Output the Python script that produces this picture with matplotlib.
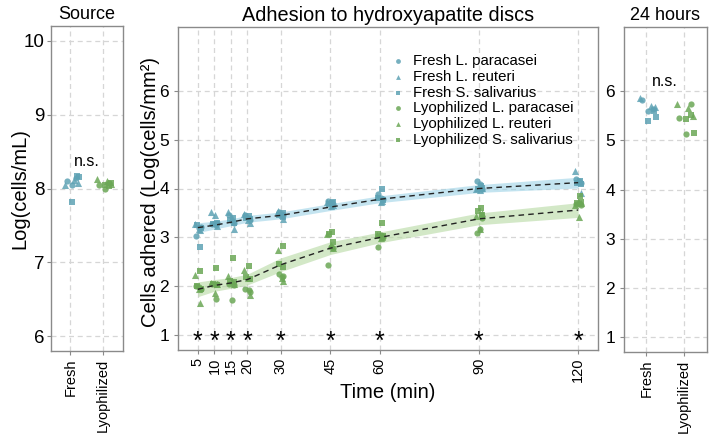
import matplotlib
matplotlib.use("Agg")
import matplotlib.pyplot as plt
import numpy as np

plt.rcParams['font.family'] = ['Liberation Sans', 'DejaVu Sans']

# ---------------- data ----------------
groups = ["Fresh", "Lyophilized"]
strains = ["L. paracasei", "L. reuteri", "S. salivarius"]

# Source panel (Log cells/mL), 3 replicates per strain
source_fresh = {"L. paracasei": [8.10, 8.05, 8.14],
                "L. reuteri": [8.05, 8.12, 8.08],
                "S. salivarius": [8.17, 8.15, 7.82]}
source_lyo = {"L. paracasei": [8.05, 8.00, 8.08],
              "L. reuteri": [8.13, 8.10, 8.06],
              "S. salivarius": [8.03, 8.07, 8.05]}

# 24 hours panel (Log cells/mm2)
h24_fresh = {"L. paracasei": [5.81, 5.60, 5.63],
             "L. reuteri": [5.85, 5.70, 5.68],
             "S. salivarius": [5.59, 5.48, 5.39]}
h24_lyo = {"L. paracasei": [5.45, 5.12, 5.73],
           "L. reuteri": [5.73, 5.66, 5.50],
           "S. salivarius": [5.52, 5.14, 5.44]}

# Adhesion time course
times = [5, 10, 15, 20, 30, 45, 60, 90, 120]
fresh_paracasei = [[3.03, 3.20, 3.22], [3.27, 3.25, 3.30], [3.45, 3.34, 3.30],
                   [3.45, 3.40, 3.35], [3.52, 3.48, 3.45], [3.75, 3.70, 3.68],
                   [3.89, 3.80, 3.78], [4.15, 4.09, 4.00], [4.19, 4.15, 4.12]]
fresh_reuteri = [[3.27, 3.18, 3.15], [3.52, 3.45, 3.23], [3.52, 3.39, 3.18],
                 [3.48, 3.36, 3.29], [3.55, 3.45, 3.37], [3.72, 3.65, 3.66],
                 [3.82, 3.72, 3.75], [4.00, 3.97, 4.02], [4.35, 4.15, 3.90]]
fresh_salivarius = [[2.81, 3.25, 3.20], [3.27, 3.28, 3.30], [3.40, 3.35, 3.30],
                    [3.44, 3.40, 3.38], [3.50, 3.45, 3.42], [3.70, 3.68, 3.72],
                    [3.99, 3.80, 3.76], [4.05, 4.00, 4.02], [4.15, 4.12, 4.10]]
lyo_paracasei = [[2.01, 1.98, 1.95], [2.04, 1.74, 2.05], [2.04, 1.72, 2.02],
                 [1.95, 1.93, 1.88], [2.25, 2.20, 2.22], [2.44, 2.80, 2.78],
                 [2.80, 3.05, 3.00], [3.09, 3.18, 3.40], [3.68, 3.70, 3.67]]
lyo_reuteri = [[2.24, 1.95, 1.66], [2.07, 1.86, 2.05], [2.21, 2.10, 2.05],
               [2.33, 2.17, 1.83], [2.75, 2.17, 2.10], [3.08, 2.85, 2.78],
               [3.05, 2.98, 3.00], [3.43, 3.18, 3.50], [3.67, 3.41, 3.70]]
lyo_salivarius = [[2.31, 2.00, 1.95], [2.38, 2.05, 2.02], [2.59, 2.10, 2.08],
                  [2.42, 2.20, 2.15], [2.83, 2.45, 2.40], [3.11, 3.08, 2.90],
                  [3.29, 3.07, 3.02], [3.60, 3.55, 3.45], [3.85, 3.70, 3.72]]

fresh_fit = [3.20, 3.25, 3.31, 3.38, 3.45, 3.62, 3.78, 4.00, 4.12]
fresh_se = [0.10, 0.08, 0.07, 0.07, 0.07, 0.07, 0.07, 0.08, 0.11]
lyo_fit = [1.94, 2.02, 2.07, 2.14, 2.44, 2.78, 3.00, 3.38, 3.56]
lyo_se = [0.15, 0.12, 0.11, 0.11, 0.14, 0.13, 0.11, 0.12, 0.15]

signif_times = [5, 10, 15, 20, 30, 45, 60, 90, 120]

# ---------------- style ----------------
C_FRESH = '#5ea2b4'
C_LYO = '#6ba756'
RIB_FRESH = '#9dd3e7'
RIB_LYO = '#b6d9a2'
MARK = {"L. paracasei": 'o', "L. reuteri": '^', "S. salivarius": 's'}
MSIZE = {"L. paracasei": 20, "L. reuteri": 26, "S. salivarius": 20}
GRID = dict(color='#d6d6d6', linestyle=(0, (4, 3)), linewidth=0.9)
SPINE = '#8a8a8a'

W, H = 709, 441
fig = plt.figure(figsize=(W / 100, H / 100), dpi=100)

def px_axes(x0, y0, x1, y1):
    return fig.add_axes([x0 / W, 1 - y1 / H, (x1 - x0) / W, (y1 - y0) / H])

def style(ax):
    for s in ax.spines.values():
        s.set_color(SPINE)
        s.set_linewidth(1.0)
    ax.tick_params(color=SPINE, length=3, width=0.8)
    ax.tick_params(axis='x', pad=2.5)
    ax.grid(True, **GRID)
    ax.set_axisbelow(True)

ax1 = px_axes(51, 26, 123, 351)
ax2 = px_axes(178, 27, 598, 350)
ax3 = px_axes(624, 27, 707, 352)

jit_cat = {"L. paracasei": [-0.12, 0.05, 0.18],
           "L. reuteri": [-0.18, 0.12, 0.24],
           "S. salivarius": [0.20, 0.26, 0.05]}

def side_panel(ax, fresh, lyo):
    for gi, (g, d, c) in enumerate([("Fresh", fresh, C_FRESH), ("Lyophilized", lyo, C_LYO)]):
        for s in strains:
            vals = d[s]
            xs = [gi + 1 + j for j in jit_cat[s][:len(vals)]]
            ax.scatter(xs, vals, marker=MARK[s], s=MSIZE[s], color=c,
                       alpha=0.85, linewidths=0, zorder=3)
    ax.set_xticks([1, 2])
    ax.set_xticklabels(groups, rotation=90, fontsize=10.5)
    ax.set_xlim(0.4, 2.62)

# Source
side_panel(ax1, source_fresh, source_lyo)
ax1.set_ylim(5.8, 10.2)
ax1.set_yticks([6, 7, 8, 9, 10])
ax1.tick_params(axis='y', labelsize=13.5, pad=1.5)
ax1.set_title("Source", fontsize=13, pad=5)
ax1.text(1.5, 8.36, "n.s.", ha='center', va='center', fontsize=11.5)
style(ax1)
fig.text(20 / W, 1 - 189 / H, "Log(cells/mL)", rotation=90, ha='center',
         va='center', fontsize=14.5)

# 24 hours
side_panel(ax3, h24_fresh, h24_lyo)
ax3.set_ylim(0.7, 7.3)
ax3.set_yticks([1, 2, 3, 4, 5, 6])
ax3.tick_params(axis='y', labelsize=12.5)
ax3.set_title("24 hours", fontsize=13, pad=5)
ax3.text(1.5, 6.2, "n.s.", ha='center', va='center', fontsize=11.5)
style(ax3)

# Adhesion time course
t = np.array(times, dtype=float)
ff, fs = np.array(fresh_fit), np.array(fresh_se)
lf, ls = np.array(lyo_fit), np.array(lyo_se)
ax2.fill_between(t, ff - fs, ff + fs, color=RIB_FRESH, alpha=0.6, lw=0, zorder=1.5)
ax2.fill_between(t, lf - ls, lf + ls, color=RIB_LYO, alpha=0.6, lw=0, zorder=1.5)

jit_t = {"L. paracasei": [-0.6, 0.4, 0.9],
         "L. reuteri": [-0.9, 0.3, 0.8],
         "S. salivarius": [0.6, -0.4, 0.9]}
series = [("Fresh", "L. paracasei", fresh_paracasei, C_FRESH),
          ("Fresh", "L. reuteri", fresh_reuteri, C_FRESH),
          ("Fresh", "S. salivarius", fresh_salivarius, C_FRESH),
          ("Lyophilized", "L. paracasei", lyo_paracasei, C_LYO),
          ("Lyophilized", "L. reuteri", lyo_reuteri, C_LYO),
          ("Lyophilized", "S. salivarius", lyo_salivarius, C_LYO)]
handles = []
for g, s, data, c in series:
    xs, ys = [], []
    for ti, vals in zip(times, data):
        for j, v in enumerate(vals):
            xs.append(ti + jit_t[s][j])
            ys.append(v)
    ax2.scatter(xs, ys, marker=MARK[s], s=MSIZE[s], color=c, alpha=0.85,
                linewidths=0, zorder=3)
    handles.append(ax2.scatter([], [], marker=MARK[s], s=12, color=c, alpha=0.85,
                               linewidths=0, label=f"{g} {s}"))

ax2.plot(t, ff, color='#222222', lw=1.0, ls=(0, (4, 3)), zorder=4)
ax2.plot(t, lf, color='#222222', lw=1.0, ls=(0, (4, 3)), zorder=4)

for st in signif_times:
    ax2.text(st, 0.86, "*", ha='center', va='center', fontsize=18, zorder=5)

ax2.set_xlim(-1.0, 126.0)
ax2.set_ylim(0.7, 7.3)
ax2.set_xticks(times)
ax2.set_xticklabels([str(x) for x in times], rotation=90, fontsize=10.5)
ax2.set_yticks([1, 2, 3, 4, 5, 6])
ax2.tick_params(axis='y', labelsize=12.5)
ax2.set_title("Adhesion to hydroxyapatite discs", fontsize=14.3, pad=4)
leg = ax2.legend(handles=handles, loc='upper left', bbox_to_anchor=(0.488, 0.935),
                 frameon=False, fontsize=10.8, labelspacing=0.12,
                 handletextpad=0.4, handlelength=1.2, borderaxespad=0)
style(ax2)
fig.text(150 / W, 1 - 192 / H, "Cells adhered (Log(cells/mm²)", rotation=90,
         ha='center', va='center', fontsize=14.5)
fig.text(388 / W, 1 - 393 / H, "Time (min)", ha='center', va='center',
         fontsize=14.5)

fig.savefig("out.png", dpi=100)
